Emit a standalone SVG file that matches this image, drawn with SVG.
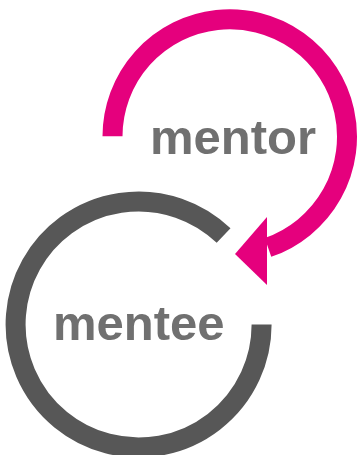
<svg xmlns="http://www.w3.org/2000/svg" width="358" height="455" viewBox="0 0 358 455">
  <style>
    .ring { fill: none; stroke-width: 20; stroke-linecap: butt; }
    .mentor-ring { stroke: #E5007D; }
    .mentee-ring { stroke: #575757; }
    .label { font-family: "Liberation Sans", Arial, sans-serif; font-weight: bold; font-size: 49px; fill: #707070; }
  </style>
  <rect width="358" height="455" fill="#FFFFFF"/>
  <g id="mentee">
    <path class="ring mentee-ring" d="M 261.6 324.5 A 123 123 0 1 1 223.6 235.6"/>
    <text class="label" x="53" y="340">mentee</text>
  </g>
  <g id="connectors">
    <path class="ring mentor-ring" d="M 112.5 136.25 A 117.25 117.25 0 1 1 268 247.4"/>
    <polygon fill="#E5007D" points="267,217 235,254 267,285"/>
  </g>
  <g id="mentor">
    <text class="label" x="150" y="154">mentor</text>
  </g>
</svg>
